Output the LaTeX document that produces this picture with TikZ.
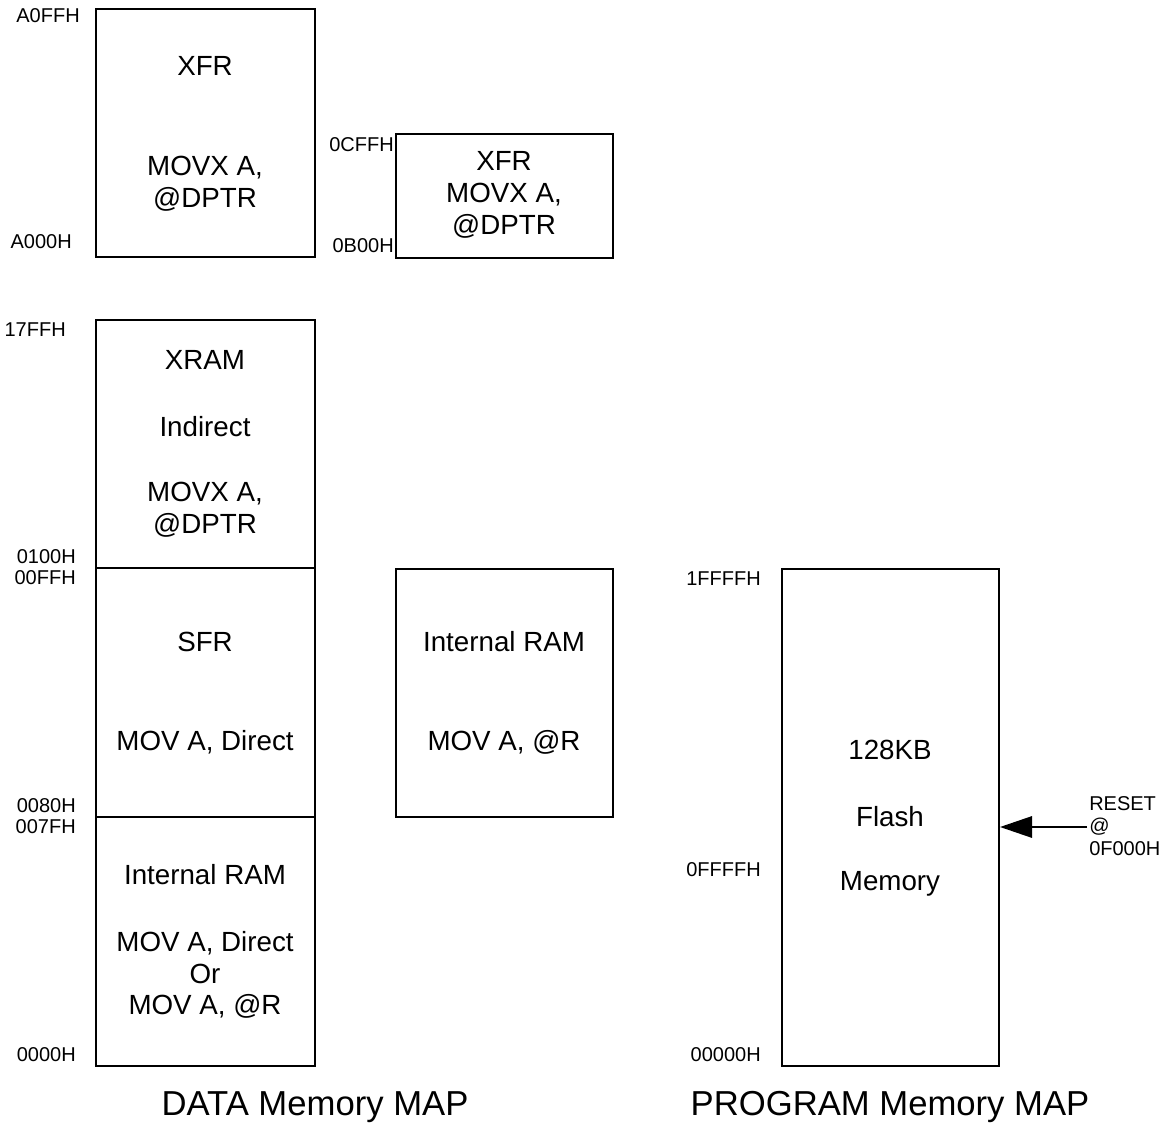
\documentclass[tikz,border=0pt]{standalone}
\usepackage{fontspec}
\setmainfont{Liberation Sans}
\usetikzlibrary{arrows.meta}
\begin{document}
\begin{tikzpicture}[x=0.75pt,y=-0.75pt,
  box/.style 2 args={draw,line width=1.5pt,minimum width=#1*0.75pt,minimum height=#2*0.75pt,inner sep=0pt},
  txt/.style={font=\fontsize{20.8}{23.8}\selectfont,align=center,inner sep=0pt},
  addr/.style={font=\fontsize{15}{17}\selectfont,anchor=east,inner sep=0pt},
  title/.style={font=\fontsize{26}{30}\selectfont,inner sep=0pt}]
\useasboundingbox (0,0) rectangle (1166,1126);
% boxes
\node[box={219}{248}] (xfr1) at (205.5,133) {};
\node[box={217}{124}] (xfr2) at (504.5,196) {};
\node[box={219}{248}] (xram) at (205.5,444) {};
\node[box={219}{249}] (sfr) at (205.5,692.5) {};
\node[box={219}{249}] (iram) at (205.5,941.5) {};
\node[box={217}{248}] (iram2) at (504.5,693) {};
\node[box={217}{497}] (flash) at (890.5,817.5) {};
% texts
\node[txt] (t1) at (205,66) {XFR};
\node[txt] (t2) at (205,184) {MOVX A,\\@DPTR};
\node[txt] (t3) at (504,195) {XFR\\MOVX A,\\@DPTR};
\node[txt] (t4) at (205,360) {XRAM};
\node[txt] (t5) at (205,427) {Indirect};
\node[txt] (t6) at (205,510) {MOVX A,\\@DPTR};
\node[txt] (t7) at (205,642) {SFR};
\node[txt] (t8) at (205,742) {MOV A, Direct};
\node[txt] (t9) at (205,875) {Internal RAM};
\node[txt] (t10) at (205,975) {MOV A, Direct\\Or\\MOV A, @R};
\node[txt] (t11) at (504,642) {Internal RAM};
\node[txt] (t12) at (504,742) {MOV A, @R};
\node[txt] (t13) at (890,750) {128KB};
\node[txt] (t14) at (890,817) {Flash};
\node[txt] (t15) at (890,884) {Memory};
% addresses
\node[addr] (a1) at (80,16) {A0FFH};
\node[addr] (a2) at (72,242) {A000H};
\node[addr] (a3) at (394,145) {0CFFH};
\node[addr] (a4) at (394,246) {0B00H};
\node[addr] (a5) at (66,330) {17FFH};
\node[addr] (a6) at (76,557) {0100H};
\node[addr] (a7) at (76,578) {00FFH};
\node[addr] (a8) at (76,806) {0080H};
\node[addr] (a9) at (76,827) {007FH};
\node[addr] (a10) at (76,1055) {0000H};
\node[addr] (a11) at (761,579) {1FFFFH};
\node[addr] (a12) at (761,870) {0FFFFH};
\node[addr] (a13) at (761,1055) {00000H};
% reset
\node[font=\fontsize{15}{17}\selectfont,align=left,anchor=west,inner sep=0pt] (rst) at (1089,826) {RESET\\@\\0F000H};
\coordinate (rs) at (1087,827);
\draw[line width=1.5pt,-{Triangle[length=24pt,width=16pt]}] (rs) -- (rs -| flash.east);
% titles
\node[title] (d) at (315,1107) {DATA Memory MAP};
\node[title] (p) at (890,1107) {PROGRAM Memory MAP};
\end{tikzpicture}
\end{document}
